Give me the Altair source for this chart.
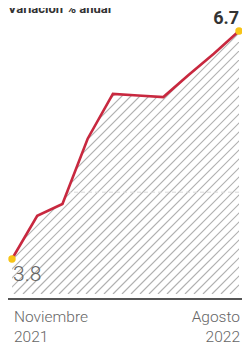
import altair as alt
import pandas as pd

# ---- data ----
months = ["Nov 2021", "Dic 2021", "Ene 2022", "Feb 2022", "Mar 2022",
          "Abr 2022", "May 2022", "Jun 2022", "Jul 2022", "Ago 2022"]
values = [3.8, 4.35, 4.5, 5.33, 5.9, 5.88, 5.86, 6.14, 6.41, 6.7]
axis_labels = ["Noviembre\n2021", "Agosto\n2022"]
title_text = "Variación % anual"
grid_value = [4.65]

W, H = 227, 286
Y_DOMAIN = [3.355, 6.993]

df = pd.DataFrame({"i": list(range(len(months))), "mes": months, "v": values})
df["top"] = Y_DOMAIN[1]
ends = df.iloc[[0, -1]].copy()
ends["lab"] = [f"{v:.1f}" for v in ends["v"]]
xlab = pd.DataFrame({"i": [0, len(months) - 1], "t": axis_labels})

xs = alt.Scale(domain=[0, len(months) - 1], nice=False, zero=False)
ys = alt.Scale(domain=Y_DOMAIN, nice=False, zero=False)
X = alt.X("i:Q", scale=xs, axis=None)
Y = alt.Y("v:Q", scale=ys, axis=None)

# decorative diagonal hatch texture (pixel space), clipped to view
step = 9
n = (W + H) // step + 2
hatch = pd.DataFrame({"k": range(n)})
hatch["x1"] = hatch["k"] * step
hatch["x2"] = hatch["k"] * step - H
hatch["y1"] = 0
hatch["y2"] = H

hatch_layer = alt.Chart(hatch).mark_rule(
    color="#b0b0b0", strokeWidth=1.2, clip=True
).encode(
    x=alt.X("x1:Q", scale=None, axis=None), x2="x2:Q",
    y=alt.Y("y1:Q", scale=None, axis=None), y2="y2:Q",
)

grid = alt.Chart(pd.DataFrame({"g": grid_value})).mark_rule(
    color="#d9d9d9", strokeWidth=1, strokeDash=[4, 3]
).encode(y=alt.Y("g:Q", scale=ys, axis=None))

mask = alt.Chart(df).mark_area(color="white", opacity=1, interpolate="linear").encode(
    x=X, y=Y, y2="top:Q"
)

line = alt.Chart(df).mark_line(color="#c8283f", strokeWidth=2.6).encode(x=X, y=Y)

pts = alt.Chart(ends).mark_circle(color="#f7c417", opacity=1, size=55).encode(x=X, y=Y)

lab_start = alt.Chart(ends.iloc[[0]]).mark_text(
    align="left", baseline="alphabetic", dx=1, dy=22, fontSize=21,
    font="Roboto", fontWeight=300, color="#666666"
).encode(x=X, y=Y, text="lab:N")

lab_end = alt.Chart(ends.iloc[[1]]).mark_text(
    align="right", baseline="alphabetic", dx=0, dy=-7, fontSize=18,
    font="Roboto", fontWeight="bold", color="#333333"
).encode(x=X, y=Y, text="lab:N")

axis_line = alt.Chart(xlab.iloc[[0]]).mark_rule(color="#555555", strokeWidth=2).encode(
    x=alt.value(-9), x2=alt.value(234), y=alt.value(291)
)

xlabels_l = alt.Chart(xlab.iloc[[0]]).mark_text(
    align="left", baseline="alphabetic", dx=2, fontSize=15.5, font="Roboto",
    fontWeight=300, color="#666666", lineBreak="\n", lineHeight=20
).encode(x=X, y=alt.value(314), text="t:N")

xlabels_r = alt.Chart(xlab.iloc[[1]]).mark_text(
    align="right", baseline="alphabetic", dx=1, fontSize=15.5, font="Roboto",
    fontWeight=300, color="#666666", lineBreak="\n", lineHeight=20
).encode(x=X, y=alt.value(314), text="t:N")

title = alt.Chart(pd.DataFrame({"t": [title_text]})).mark_text(
    align="left", baseline="alphabetic", fontSize=13, font="Roboto",
    fontWeight="bold", color="#333333"
).encode(x=alt.value(-4), y=alt.value(5), text="t:N")

chart = alt.layer(
    hatch_layer, grid, mask, line, pts, lab_start, lab_end,
    axis_line, xlabels_l, xlabels_r, title
).properties(
    width=W, height=H,
    autosize=alt.AutoSizeParams(type="none"),
    padding={"left": 4, "top": 0, "right": 3, "bottom": 53},
).configure_view(stroke=None)

chart.save("out.html", embed_options={"renderer": "svg", "actions": False})
